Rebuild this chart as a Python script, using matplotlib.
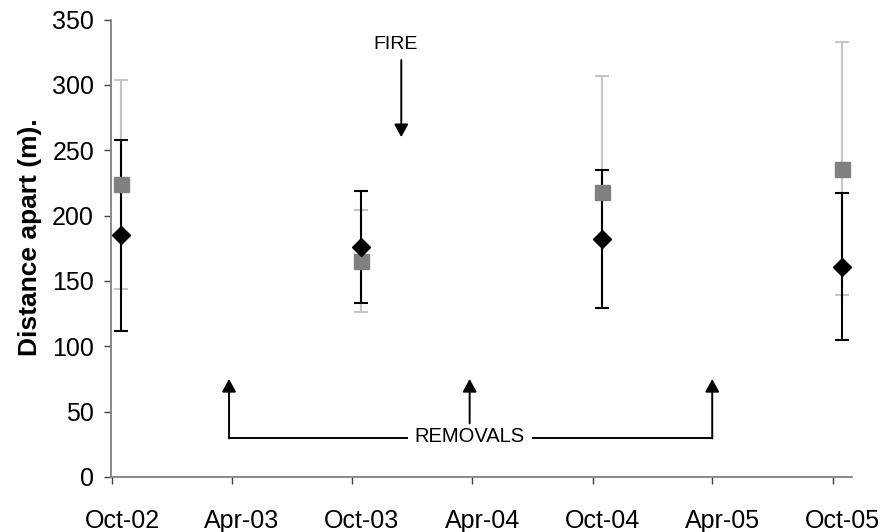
import datetime as dt
import matplotlib
matplotlib.use("Agg")
import matplotlib.pyplot as plt
import matplotlib.dates as mdates
from matplotlib.transforms import ScaledTranslation

plt.rcParams['font.family'] = ['Liberation Sans', 'DejaVu Sans']

# survey dates (mid October each year)
dates = [dt.date(2002, 10, 14), dt.date(2003, 10, 15),
         dt.date(2004, 10, 15), dt.date(2005, 10, 15)]

# black diamonds series
black_mean = [185, 176, 182, 161]
black_err = [73, 43, 53, 56]

# grey squares series
grey_mean = [224, 165, 218, 236]
grey_err = [80, 39, 89, 97]

# annotation positions
fire_date = dt.date(2003, 12, 15)
fire_label_date = dt.date(2003, 12, 6)
removal_dates = [dt.date(2003, 3, 28), dt.date(2004, 3, 28), dt.date(2005, 4, 1)]

fig = plt.figure(figsize=(8.85, 5.32), dpi=100)
ax = fig.add_axes([0.1251, 0.1034, 0.8379, 0.8599])

# error bars first (grey behind black)
ax.errorbar(dates, grey_mean, yerr=grey_err, fmt='none', ecolor='#c4c4c4',
            elinewidth=1.5, capsize=5.3, capthick=1.5, zorder=2)
ax.errorbar(dates, black_mean, yerr=black_err, fmt='none', ecolor='black',
            elinewidth=1.5, capsize=5.3, capthick=1.5, zorder=3)
ax.plot(dates, grey_mean, ls='none', marker='s', ms=10.8, color='#808080',
        mec='#808080', zorder=4)
ax.plot(dates, black_mean, ls='none', marker='D', ms=8.7, color='black', zorder=5)

ax.set_ylim(0, 350)
ax.set_yticks(range(0, 351, 50))
ax.set_xlim(dt.date(2002, 9, 29), dt.date(2005, 10, 31))
ax.xaxis.set_major_locator(mdates.MonthLocator(bymonth=[4, 10], bymonthday=1))
ax.xaxis.set_major_formatter(mdates.DateFormatter('%b-%y'))

for s in ['top', 'right']:
    ax.spines[s].set_visible(False)
for s in ['left', 'bottom']:
    ax.spines[s].set_color('#808080')
    ax.spines[s].set_linewidth(1.3)

ax.tick_params(axis='both', direction='out', length=5, width=1,
               color='#404040', labelsize=18)
ax.tick_params(axis='y', pad=7)
ax.tick_params(axis='x', pad=18)

# excel puts the date labels a little right of the tick
offset = ScaledTranslation(0.1, 0, fig.dpi_scale_trans)
for lab in ax.get_xticklabels():
    lab.set_transform(lab.get_transform() + offset)

fig.text(30 / 885, 1 - 237 / 532, 'Distance apart (m).', rotation=90,
         ha='center', va='center', fontsize=19, fontweight='bold')

arrow_kw = dict(arrowstyle='-|>,head_length=0.55,head_width=0.3',
                color='black', lw=1.4, shrinkA=0, shrinkB=0, mutation_scale=14)

# FIRE
ax.text(fire_label_date, 331, 'FIRE', ha='center', va='center', fontsize=14)
ax.annotate('', xy=(fire_date, 260), xytext=(fire_date, 319), arrowprops=arrow_kw)

# REMOVALS bracket
ax.plot([removal_dates[0], removal_dates[-1]], [30, 30], color='black', lw=1.4,
        solid_capstyle='butt', zorder=1)
ax.annotate('', xy=(removal_dates[0], 75), xytext=(removal_dates[0], 29.5),
            arrowprops=arrow_kw)
ax.annotate('', xy=(removal_dates[2], 75), xytext=(removal_dates[2], 29.5),
            arrowprops=arrow_kw)
ax.annotate('', xy=(removal_dates[1], 75), xytext=(removal_dates[1], 41),
            arrowprops=arrow_kw)
ax.text(removal_dates[1], 31, 'REMOVALS', ha='center', va='center', fontsize=14.5,
        bbox=dict(facecolor='white', edgecolor='none', pad=5), zorder=2)

fig.savefig('out.png', dpi=100)
